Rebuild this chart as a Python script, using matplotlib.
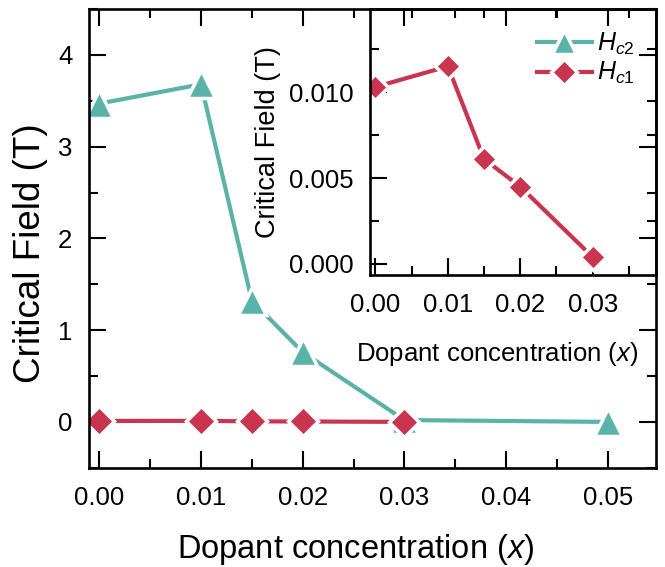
import matplotlib

matplotlib.use("Agg")
import matplotlib.pyplot as plt
from matplotlib.ticker import MultipleLocator

plt.rcParams["font.family"] = ["Liberation Sans", "DejaVu Sans"]
plt.rcParams["mathtext.fontset"] = "custom"
plt.rcParams["mathtext.rm"] = "Liberation Sans"
plt.rcParams["mathtext.it"] = "Liberation Sans:italic"

# data
x_hc2 = [0.00, 0.01, 0.015, 0.02, 0.03, 0.05]
hc2 = [3.47, 3.68, 1.32, 0.76, 0.02, 0.0]
x_hc1 = [0.00, 0.01, 0.015, 0.02, 0.03]
hc1 = [0.0103, 0.0115, 0.0061, 0.0045, 0.0004]

teal = "#5AB3A9"
red = "#C9344F"


def style_axes(a, fs):
    for s in a.spines.values():
        s.set_linewidth(1.9)
    a.tick_params(which="both", direction="in", top=True, right=True,
                  width=1.5, labelsize=fs)
    a.tick_params(axis="x", pad=13)
    a.tick_params(axis="y", pad=12)
    a.tick_params(which="major", length=12)
    a.tick_params(which="minor", length=6.5)


fig = plt.figure(figsize=(6.65, 5.67), dpi=100)
ax = fig.add_axes([0.134, 0.175, 0.852, 0.809])
ins = fig.add_axes([0.557, 0.515, 0.429, 0.469])
ax.set_zorder(2)
ax.patch.set_alpha(0)
ins.set_zorder(1)

line_kw = dict(linewidth=3, markeredgecolor="white", markeredgewidth=2.5)
ax.plot(x_hc2, hc2, "-^", color=teal, markersize=20, **line_kw)
ax.plot(x_hc1, hc1, "-D", color=red, markersize=15, **line_kw)
ax.set_xlim(-0.001, 0.0547)
ax.set_ylim(-0.5, 4.5)
ax.xaxis.set_major_locator(MultipleLocator(0.01))
ax.xaxis.set_minor_locator(MultipleLocator(0.005))
ax.yaxis.set_major_locator(MultipleLocator(1))
ax.yaxis.set_minor_locator(MultipleLocator(0.5))
ax.xaxis.set_major_formatter(lambda v, p: f"{v:.2f}")
style_axes(ax, 18.5)
ax.set_xlabel("Dopant concentration ($\\mathit{x}$)", fontsize=23.5)
ax.set_ylabel("Critical Field (T)", fontsize=26.5)
ax.xaxis.set_label_coords(0.47, -0.14)
ax.yaxis.set_label_coords(-0.072, 0.468)

ins.plot(x_hc2[:0], hc2[:0], "-^", color=teal, markersize=17, label=r"$\mathit{H_{c2}}$", **line_kw)
ins.plot(x_hc1, hc1, "-D", color=red, markersize=13, label=r"$\mathit{H_{c1}}$", **line_kw)
ins.set_xlim(-0.0007, 0.0387)
ins.set_ylim(-0.00064, 0.01483)
ins.xaxis.set_major_locator(MultipleLocator(0.01))
ins.xaxis.set_minor_locator(MultipleLocator(0.005))
ins.yaxis.set_major_locator(MultipleLocator(0.005))
ins.yaxis.set_minor_locator(MultipleLocator(0.0025))
ins.xaxis.set_major_formatter(lambda v, p: f"{v:.2f}")
ins.yaxis.set_major_formatter(lambda v, p: f"{v:.3f}")
style_axes(ins, 18.5)
ins.tick_params(top=False, right=False)
ins.set_xlabel("Dopant concentration ($\\mathit{x}$)", fontsize=18.5, labelpad=6)
ins.set_ylabel("Critical Field (T)", fontsize=19.5, labelpad=6)
ins.xaxis.set_label_coords(0.446, -0.245)
ins.legend(loc="upper right", frameon=False, fontsize=18, handlelength=2.2,
           handletextpad=0.2, labelspacing=0.15, borderaxespad=0.45)

fig.savefig("out.png", dpi=100)
